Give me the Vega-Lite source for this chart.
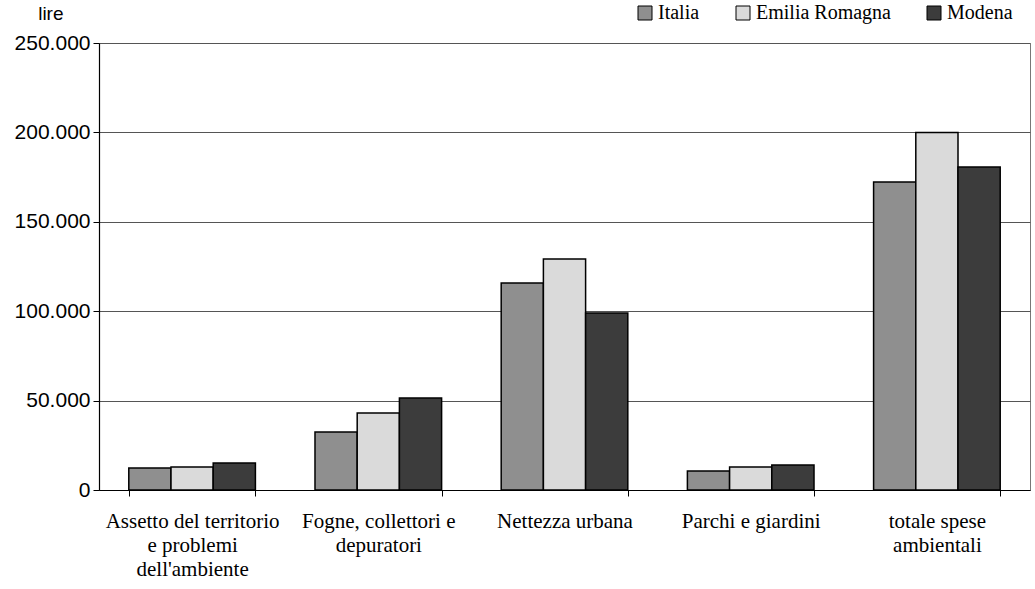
{
  "$schema": "https://vega.github.io/schema/vega-lite/v6.json",
  "autosize": {"type": "none"},
  "width": 931,
  "height": 447,
  "padding": {"left": 99, "top": 43, "right": 5, "bottom": 99},
  "background": "white",
  "config": {
    "view": {"stroke": "#777", "strokeWidth": 1},
    "font": "Liberation Serif"
  },
  "data": {
    "values": [
      {"cat": "Assetto del territorio|e problemi|dell'ambiente", "area": "Italia", "v": 12300},
      {"cat": "Assetto del territorio|e problemi|dell'ambiente", "area": "Emilia Romagna", "v": 12900},
      {"cat": "Assetto del territorio|e problemi|dell'ambiente", "area": "Modena", "v": 15100},
      {"cat": "Fogne, collettori e|depuratori", "area": "Italia", "v": 32400},
      {"cat": "Fogne, collettori e|depuratori", "area": "Emilia Romagna", "v": 43000},
      {"cat": "Fogne, collettori e|depuratori", "area": "Modena", "v": 51500},
      {"cat": "Nettezza urbana", "area": "Italia", "v": 115800},
      {"cat": "Nettezza urbana", "area": "Emilia Romagna", "v": 129200},
      {"cat": "Nettezza urbana", "area": "Modena", "v": 99000},
      {"cat": "Parchi e giardini", "area": "Italia", "v": 10600},
      {"cat": "Parchi e giardini", "area": "Emilia Romagna", "v": 12900},
      {"cat": "Parchi e giardini", "area": "Modena", "v": 14000},
      {"cat": "totale spese|ambientali", "area": "Italia", "v": 172300},
      {"cat": "totale spese|ambientali", "area": "Emilia Romagna", "v": 200000},
      {"cat": "totale spese|ambientali", "area": "Modena", "v": 180600}
    ]
  },
  "mark": {"type": "bar", "stroke": "black", "strokeWidth": 1.5},
  "encoding": {
    "x": {
      "field": "cat",
      "type": "nominal",
      "sort": null,
      "scale": {"paddingInner": 0.32, "paddingOuter": 0.16},
      "axis": {
        "title": null,
        "labelAngle": 0,
        "labelExpr": "split(datum.label, '|')",
        "labelFont": "Liberation Serif",
        "labelFontSize": 21,
        "labelColor": "black",
        "labelLineHeight": 24,
        "labelPadding": 14,
        "labelLimit": 0,
        "tickBand": "extent",
        "tickSize": 6,
        "tickColor": "black",
        "domainColor": "black",
        "domainWidth": 1.2
      }
    },
    "xOffset": {"field": "area", "type": "nominal", "sort": ["Italia", "Emilia Romagna", "Modena"]},
    "y": {
      "field": "v",
      "type": "quantitative",
      "scale": {"domain": [0, 250000], "nice": false},
      "axis": {
        "values": [0, 50000, 100000, 150000, 200000, 250000],
        "labelExpr": "replace(format(datum.value, ','), ',', '.')",
        "labelFont": "Liberation Sans",
        "labelFontSize": 21,
        "labelColor": "black",
        "labelPadding": 3,
        "tickSize": 6,
        "tickColor": "black",
        "domainColor": "black",
        "domainWidth": 1.2,
        "grid": true,
        "gridColor": "#555",
        "gridWidth": 1,
        "title": "lire",
        "titleFont": "Liberation Sans",
        "titleFontSize": 19,
        "titleFontWeight": "normal",
        "titleColor": "black",
        "titleAngle": 0,
        "titleAlign": "right",
        "titleBaseline": "bottom",
        "titleX": -36,
        "titleY": -20
      }
    },
    "fill": {
      "field": "area",
      "type": "nominal",
      "sort": ["Italia", "Emilia Romagna", "Modena"],
      "scale": {"domain": ["Italia", "Emilia Romagna", "Modena"], "range": ["#8f8f8f", "#dadada", "#3c3c3c"]},
      "legend": {
        "title": null,
        "orient": "none",
        "direction": "horizontal",
        "legendX": 536,
        "legendY": -40,
        "symbolType": "square",
        "symbolSize": 196,
        "symbolStrokeColor": "black",
        "symbolStrokeWidth": 1,
        "labelFont": "Liberation Serif",
        "labelFontSize": 20,
        "labelColor": "black",
        "labelOffset": 3,
        "columnPadding": 33,
        "labelLimit": 0
      }
    }
  }
}
